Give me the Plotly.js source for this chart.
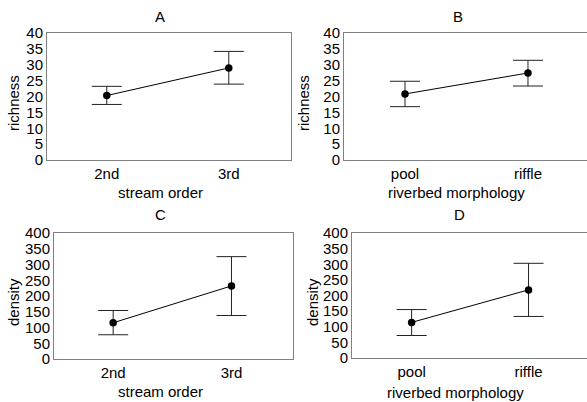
<!DOCTYPE html>
<html>
<head>
<meta charset="utf-8">
<script src="https://cdn.plot.ly/plotly-3.0.1.min.js"></script>
<style>html,body{margin:0;padding:0;background:#fff;}#chart{width:587px;height:402px;}</style>
</head>
<body>
<div id="chart"></div>
<script>
// Categories
const streamOrder = ["2nd", "3rd"];
const morphology = ["pool", "riffle"];

// Panel A: richness by stream order
const richnessOrderMean = [20.3, 29.0];
const richnessOrderUpper = [23.2, 34.2];
const richnessOrderLower = [17.5, 23.9];

// Panel B: richness by riverbed morphology
const richnessMorphMean = [20.8, 27.4];
const richnessMorphUpper = [24.8, 31.4];
const richnessMorphLower = [16.8, 23.3];

// Panel C: density by stream order
const densityOrderMean = [115, 232];
const densityOrderUpper = [154, 325];
const densityOrderLower = [77, 138];

// Panel D: density by riverbed morphology
const densityMorphMean = [114, 218];
const densityMorphUpper = [155, 303];
const densityMorphLower = [72, 133];

const richnessTicks = [0, 5, 10, 15, 20, 25, 30, 35, 40];
const densityTicks = [0, 50, 100, 150, 200, 250, 300, 350, 400];

const panelTitles = ["A", "B", "C", "D"];
const xTitles = ["stream order", "riverbed morphology", "stream order", "riverbed morphology"];
const yTitles = ["richness", "richness", "density", "density"];

const FONT = "Liberation Sans, Arial, sans-serif";
const FS = 15;

function trace(cats, mean, upper, lower, ax) {
  return {
    type: "scatter", mode: "lines+markers",
    x: cats, y: mean,
    xaxis: "x" + ax, yaxis: "y" + ax,
    line: {color: "#000", width: 1},
    marker: {color: "#000", size: 7.5},
    error_y: {
      type: "data", symmetric: false,
      array: upper.map((u, i) => u - mean[i]),
      arrayminus: mean.map((m, i) => m - lower[i]),
      color: "#222", thickness: 1, width: 15
    },
    showlegend: false, hoverinfo: "skip"
  };
}

const data = [
  trace(streamOrder, richnessOrderMean, richnessOrderUpper, richnessOrderLower, ""),
  trace(morphology, richnessMorphMean, richnessMorphUpper, richnessMorphLower, "2"),
  trace(streamOrder, densityOrderMean, densityOrderUpper, densityOrderLower, "3"),
  trace(morphology, densityMorphMean, densityMorphUpper, densityMorphLower, "4")
];

const W = 587, H = 402;
function px(a, b) { return [a / W, Math.min(1, b / W)]; }
function py(top, bottom) { return [1 - bottom / H, 1 - top / H]; }

function xax(domain, range, mirror) {
  return {
    domain: domain, range: range, type: "category",
    showline: true, linecolor: "#808080", linewidth: 1, mirror: mirror,
    showgrid: false, zeroline: false, ticks: "", fixedrange: true,
    tickfont: {family: FONT, size: FS, color: "#000"}
  };
}
function yax(domain, range, ticks, anchor, mirror) {
  return {
    domain: domain, range: range, anchor: anchor,
    tickvals: ticks, ticktext: ticks.map(String),
    showline: true, linecolor: "#808080", linewidth: 1, mirror: mirror,
    showgrid: false, zeroline: false, ticks: "", fixedrange: true,
    ticklabelstandoff: 0,
    tickfont: {family: FONT, size: FS, color: "#000"}
  };
}

const layout = {
  width: W, height: H,
  margin: {l: 0, r: 0, t: 0, b: 0},
  paper_bgcolor: "#fff", plot_bgcolor: "#fff",
  font: {family: FONT, size: FS, color: "#000"},
  xaxis: Object.assign(xax(px(47, 291), [-0.49, 1.51], true), {anchor: "y"}),
  yaxis: yax(py(33, 160), [0, 40], richnessTicks, "x", true),
  xaxis2: Object.assign(xax(px(344, 600), [-0.496, 1.48], true), {anchor: "y2"}),
  yaxis2: yax(py(33, 160), [0, 40], richnessTicks, "x2", false),
  xaxis3: Object.assign(xax(px(54, 293), [-0.50, 1.52], true), {anchor: "y3"}),
  yaxis3: yax(py(233, 359), [0, 400], densityTicks, "x3", true),
  xaxis4: Object.assign(xax(px(352, 600), [-0.51, 1.50], true), {anchor: "y4"}),
  yaxis4: yax(py(233, 358), [0, 400], densityTicks, "x4", false),
  annotations: []
};

const titlePos = [[160, 16], [458, 16], [160, 215], [459, 215]];
const xTitlePos = [[160, 192], [456, 192], [160, 391], [455, 392]];
const yTitlePos = [[13, 103], [303, 103], [13, 302], [312, 302]];
for (let i = 0; i < 4; i++) {
  layout.annotations.push({text: panelTitles[i], xref: "paper", yref: "paper",
    x: titlePos[i][0] / W, y: 1 - titlePos[i][1] / H, xanchor: "center", yanchor: "middle",
    showarrow: false, font: {family: FONT, size: FS, color: "#000"}});
  layout.annotations.push({text: xTitles[i], xref: "paper", yref: "paper",
    x: xTitlePos[i][0] / W, y: 1 - xTitlePos[i][1] / H, xanchor: "center", yanchor: "middle",
    showarrow: false, font: {family: FONT, size: FS, color: "#000"}});
  layout.annotations.push({text: yTitles[i], xref: "paper", yref: "paper", textangle: -90,
    x: yTitlePos[i][0] / W, y: 1 - yTitlePos[i][1] / H, xanchor: "center", yanchor: "middle",
    showarrow: false, font: {family: FONT, size: FS, color: "#000"}});
}

Plotly.newPlot("chart", data, layout, {displayModeBar: false, staticPlot: true});
</script>
</body>
</html>
